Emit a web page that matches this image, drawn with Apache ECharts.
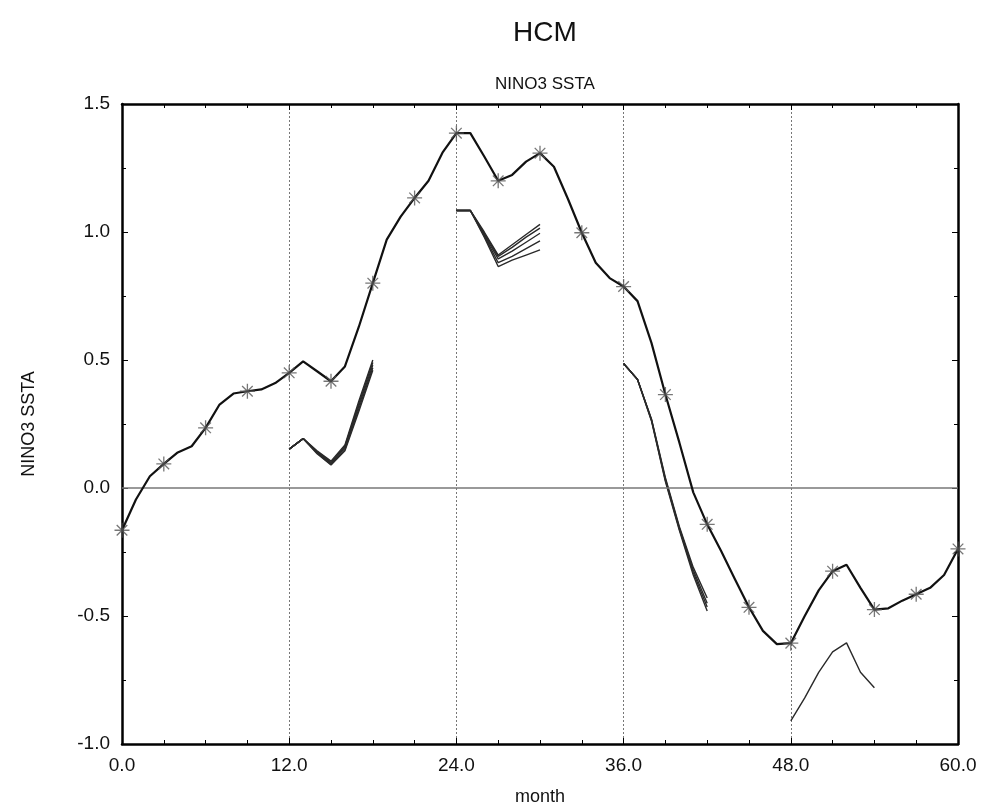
<!DOCTYPE html>
<html>
<head>
<meta charset="utf-8">
<script src="https://cdn.jsdelivr.net/npm/echarts@6/dist/echarts.min.js"></script>
<style>html,body{margin:0;padding:0;background:#fff}#c{width:985px;height:811px}</style>
</head>
<body>
<div id="c"></div>
<script>
// Observed NINO3 SSTA, months 0..60
const months = Array.from({length: 61}, (_, i) => i);
const observed = [
  -0.165, -0.045, 0.046, 0.094, 0.139, 0.163, 0.235, 0.326, 0.369, 0.378,
  0.385, 0.41, 0.45, 0.495, 0.456, 0.417, 0.475, 0.63, 0.80, 0.97,
  1.06, 1.133, 1.20, 1.31, 1.386, 1.386, 1.295, 1.20, 1.223, 1.275,
  1.308, 1.255, 1.13, 0.997, 0.88, 0.82, 0.787, 0.73, 0.567, 0.365,
  0.178, -0.017, -0.142, -0.246, -0.357, -0.466, -0.558, -0.61, -0.606, -0.50,
  -0.40, -0.325, -0.30, -0.39, -0.475, -0.47, -0.44, -0.415, -0.39, -0.34,
  -0.238
];
// Forecast ensembles (start month, members)
const fcStart1 = 12;
const fc1 = [
  [0.152, 0.193, 0.145, 0.105, 0.168, 0.34, 0.50],
  [0.152, 0.193, 0.142, 0.100, 0.163, 0.33, 0.49],
  [0.152, 0.193, 0.140, 0.096, 0.158, 0.32, 0.48],
  [0.152, 0.193, 0.137, 0.092, 0.150, 0.31, 0.47],
  [0.152, 0.193, 0.134, 0.090, 0.145, 0.30, 0.46]
];
const fcStart2 = 24;
const fc2 = [
  [1.084, 1.084, 1.00, 0.91, 0.95, 0.99, 1.03],
  [1.084, 1.084, 0.995, 0.905, 0.94, 0.98, 1.015],
  [1.084, 1.084, 0.99, 0.895, 0.925, 0.96, 0.995],
  [1.084, 1.084, 0.985, 0.88, 0.905, 0.935, 0.965],
  [1.084, 1.084, 0.98, 0.865, 0.89, 0.91, 0.93]
];
const fcStart3 = 36;
const fc3 = [
  [0.486, 0.424, 0.27, 0.04, -0.15, -0.31, -0.43],
  [0.486, 0.424, 0.268, 0.035, -0.155, -0.32, -0.45],
  [0.486, 0.424, 0.265, 0.03, -0.16, -0.33, -0.465],
  [0.486, 0.424, 0.262, 0.025, -0.165, -0.34, -0.48]
];
const fcStart4 = 48;
const fc4 = [
  [-0.91, -0.82, -0.72, -0.64, -0.605, -0.72, -0.78]
];
const xTicks = [0, 12, 24, 36, 48, 60];
const yTicks = [-1.0, -0.5, 0.0, 0.5, 1.0, 1.5];

const FONT = 'Liberation Sans';
const asterisk = 'path://M0,-10L0,10M-10,0L10,0M-7.07,-7.07L7.07,7.07M-7.07,7.07L7.07,-7.07';

const series = [];
series.push({
  type: 'line', name: 'obs', data: months.map((m, i) => [m, observed[i]]),
  showSymbol: false, lineStyle: {color: '#111', width: 2.2}, z: 5,
  markLine: {
    silent: true, symbol: 'none', label: {show: false},
    lineStyle: {color: '#777', type: 'solid', width: 1.5},
    data: [{yAxis: 0}]
  }
});
series.push({
  type: 'scatter', name: 'obsMarks',
  data: months.filter(m => m % 3 === 0).map(m => [m, observed[m]]),
  symbol: asterisk, symbolSize: 15,
  itemStyle: {color: 'rgba(0,0,0,0)', borderColor: '#555', borderWidth: 1.3}, z: 6
});
function addFc(start, members) {
  members.forEach(mem => {
    series.push({
      type: 'line', data: mem.map((v, k) => [start + k, v]),
      showSymbol: false, lineStyle: {color: '#2a2a2a', width: 1.4}, z: 4
    });
  });
}
addFc(fcStart1, fc1);
addFc(fcStart2, fc2);
addFc(fcStart3, fc3);
addFc(fcStart4, fc4);

const axisLineStyle = {show: true, onZero: false, lineStyle: {color: '#000', width: 2.5}};
const tickStyle = {show: true, inside: true, length: 6, lineStyle: {color: '#000', width: 1}};
const minorStyle = {length: 4, lineStyle: {color: '#000', width: 1}};
const chart = echarts.init(document.getElementById('c'));
chart.setOption({
  animation: false,
  backgroundColor: '#fff',
  title: [
    {text: 'HCM', left: 540, top: 14, textAlign: 'center',
     textStyle: {fontFamily: FONT, fontSize: 28, fontWeight: 'normal', color: '#111'}},
    {text: 'NINO3 SSTA', left: 540, top: 71, textAlign: 'center',
     textStyle: {fontFamily: FONT, fontSize: 17, fontWeight: 'normal', color: '#111'}}
  ],
  grid: {left: 122, right: 27, top: 104, bottom: 66},
  xAxis: [
    {type: 'value', position: 'bottom', min: xTicks[0], max: xTicks[xTicks.length - 1], interval: 12,
     name: 'month', nameLocation: 'middle', nameGap: 44,
     nameTextStyle: {fontFamily: FONT, fontSize: 18, color: '#111'},
     axisLine: axisLineStyle, axisTick: tickStyle,
     minorTick: Object.assign({show: true, splitNumber: 4}, minorStyle),
     axisLabel: {fontFamily: FONT, fontSize: 19, color: '#111', margin: 12,
                 formatter: v => v.toFixed(1)},
     splitLine: {show: true, lineStyle: {color: '#777', type: [2, 2], width: 1}}
    },
    {type: 'value', position: 'top', min: xTicks[0], max: xTicks[xTicks.length - 1], interval: 12,
     axisLine: axisLineStyle, axisTick: tickStyle,
     minorTick: Object.assign({show: true, splitNumber: 4}, minorStyle),
     axisLabel: {show: false}, splitLine: {show: false}
    }
  ],
  yAxis: [
    {type: 'value', position: 'left', min: yTicks[0], max: yTicks[yTicks.length - 1], interval: 0.5,
     name: 'NINO3 SSTA', nameLocation: 'middle', nameGap: 84, nameRotate: 90,
     nameTextStyle: {fontFamily: FONT, fontSize: 18, color: '#111'},
     axisLine: axisLineStyle, axisTick: tickStyle,
     minorTick: Object.assign({show: true, splitNumber: 2}, minorStyle),
     axisLabel: {fontFamily: FONT, fontSize: 19, color: '#111', margin: 12,
                 formatter: v => v.toFixed(1)},
     splitLine: {show: false}
    },
    {type: 'value', position: 'right', min: yTicks[0], max: yTicks[yTicks.length - 1], interval: 0.5,
     axisLine: axisLineStyle, axisTick: tickStyle,
     minorTick: Object.assign({show: true, splitNumber: 2}, minorStyle),
     axisLabel: {show: false}, splitLine: {show: false}
    }
  ],
  series: series
});
</script>
</body>
</html>
